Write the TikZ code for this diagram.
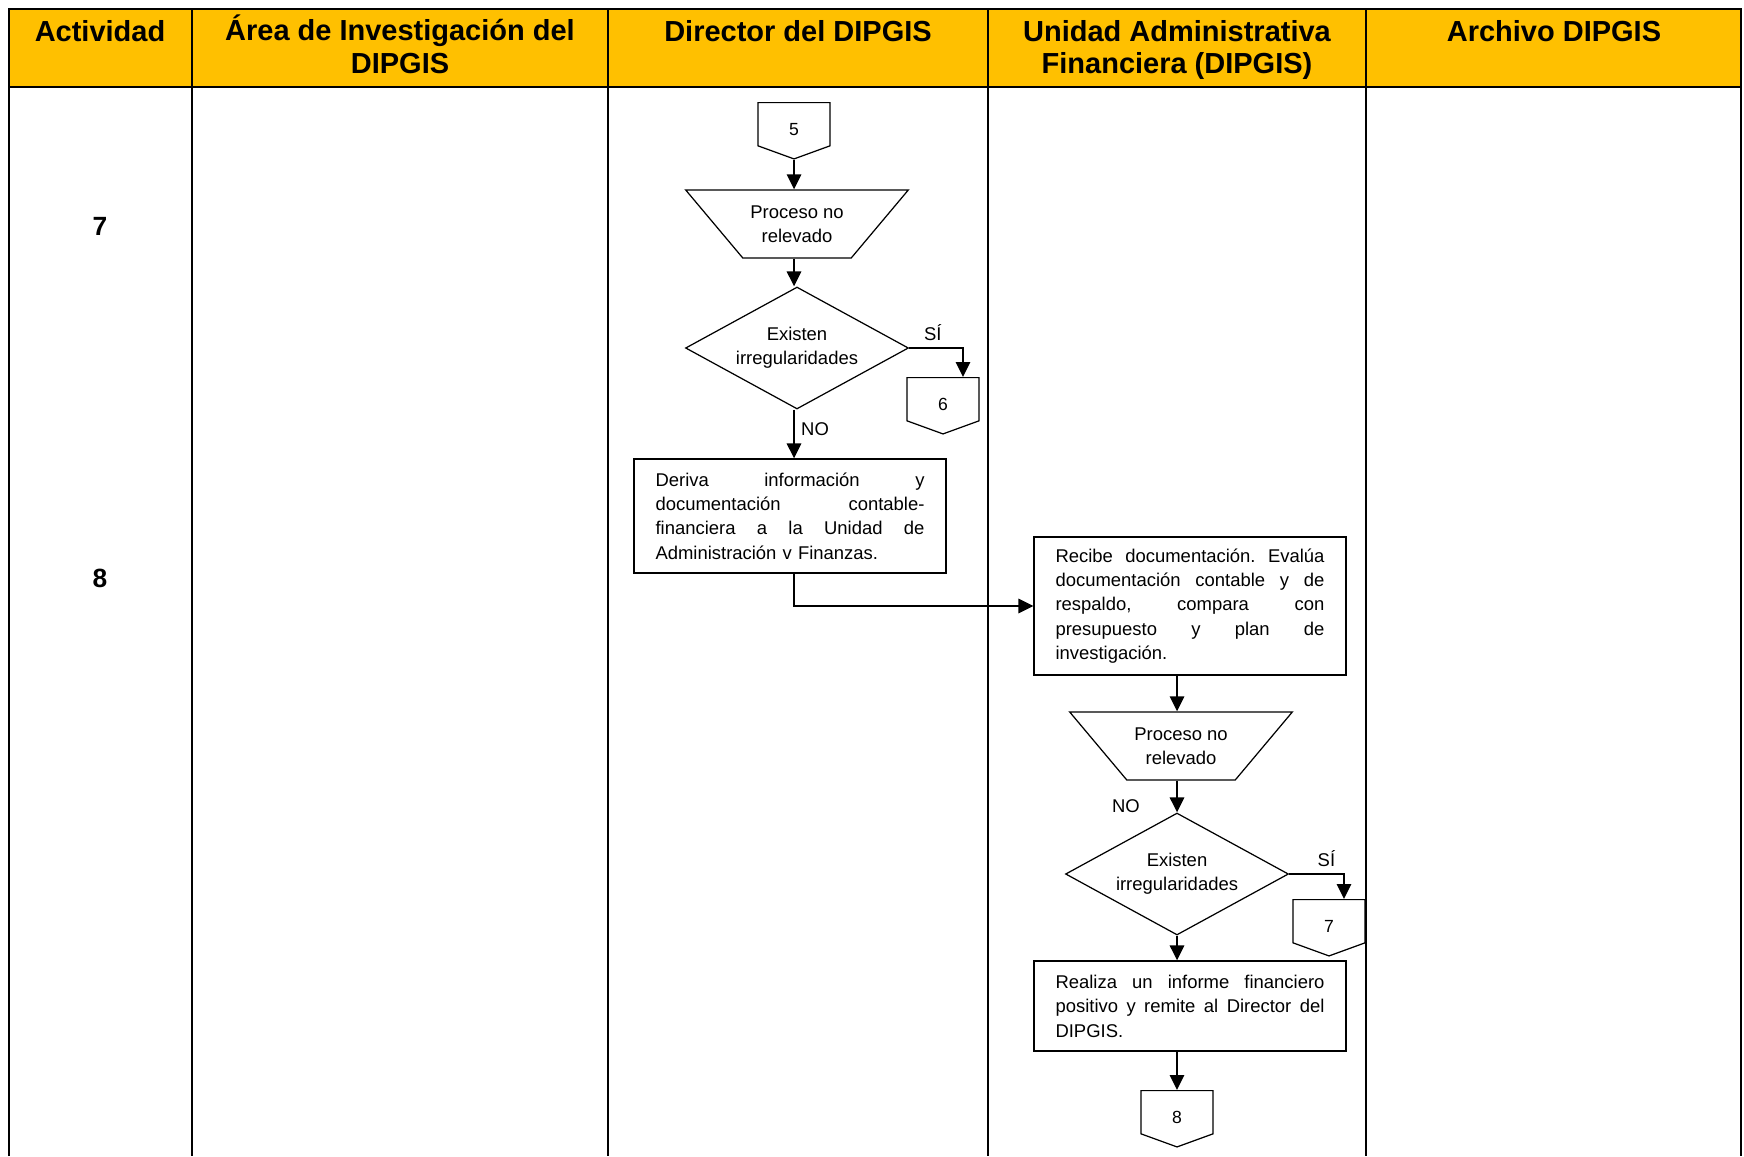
\documentclass[tikz,border=0pt]{standalone}
\usepackage{fontspec}
\setmainfont{Liberation Sans}
\usetikzlibrary{arrows.meta, positioning, shapes.geometric, shapes.symbols, calc}
\definecolor{hdgold}{HTML}{FFC000}
\frenchspacing
\newcommand{\jline}[1]{\makebox[\hsize][s]{\spaceskip=0pt\xspaceskip=0pt #1}\\}

\begin{document}
\begin{tikzpicture}[x=0.02cm, y=-0.02cm,
  tbl/.style={line width=0.9pt},
  tblthick/.style={line width=1.5pt},
  head/.style={font=\fontsize{16.5}{18.5}\selectfont\bfseries, align=center, anchor=north, inner sep=0pt},
  actnum/.style={font=\fontsize{15}{18}\selectfont\bfseries},
  procbox/.style={rectangle, draw, line width=0.7pt, minimum width=6.24cm, text width=5.38cm, align=left, font=\fontsize{10.5}{13.9}\selectfont, inner sep=0pt},
  manual/.style={trapezium, trapezium stretches=true, shape border rotate=180, trapezium left angle=40, trapezium right angle=40, draw, line width=0.7pt, minimum width=4.46cm, minimum height=1.36cm, inner sep=2pt, align=center, font=\fontsize{10.5}{13.9}\selectfont},
  decision/.style={diamond, aspect=1.8, draw, line width=0.7pt, minimum width=4.46cm, minimum height=2.44cm, inner sep=0pt, align=center, font=\fontsize{10.5}{13.9}\selectfont},
  offpage/.style={signal, signal to=south, signal pointer angle=140, draw, line width=0.7pt, minimum width=1.44cm, minimum height=0.9cm, text height=0.45cm, text depth=0cm, inner sep=0pt, font=\fontsize{10}{12}\selectfont},
  lbl/.style={font=\fontsize{10.5}{12}\selectfont},
  arr/.style={-{Triangle[length=8.5pt, width=8pt]}, line width=1.5pt},
]
  \useasboundingbox (0,0) rectangle (1744,1156);

  \fill[hdgold] (9,9) rectangle (1741,87);
  \draw[tblthick] (9,1156) -- (9,9) -- (1741,9) -- (1741,1156);
  \draw[tblthick] (9,87) -- (1741,87);
  \foreach \cx in {192,608,988,1366}
    \draw[tbl] (\cx,9) -- (\cx,1156);

  \node[head] (hact) at (100,18) {\strut Actividad};
  \node[head] (harea) at (400,14.5) {\strut Área de Investigación del\\DIPGIS};
  \node[head] (hdir) at (798,18) {\strut Director del DIPGIS};
  \node[head] (huaf) at (1177,18) {\strut Unidad Administrativa\\Financiera (DIPGIS)};
  \node[head] (harch) at (1554,18) {\strut Archivo DIPGIS};

  \node[actnum] (act7) at (100,226) {7};
  \node[actnum] (act8) at (100,578) {8};

  \node[offpage, anchor=north] (c5) at (794,102) {5};
  \node[manual] (proc1) at (797,224) {Proceso no\\relevado};
  \node[decision] (dec1) at (797,348) {Existen\\irregularidades};
  \node[offpage, anchor=north] (c6) at (943,377) {6};
  \node[procbox, minimum height=2.28cm] (deriva) at (790,516) {%
    \jline{Deriva información y}
    \jline{documentación contable-}
    \jline{financiera a la Unidad de}
    Administración v Finanzas.};

  \node[procbox, minimum height=2.76cm] (recibe) at (1190,606) {%
    \jline{Recibe documentación. Evalúa}
    \jline{documentación contable y de}
    \jline{respaldo, compara con}
    \jline{presupuesto y plan de}
    investigación.};
  \node[manual] (proc2) at (1181,746) {Proceso no\\relevado};
  \node[decision] (dec2) at (1177,874) {Existen\\irregularidades};
  \node[offpage, anchor=north] (c7) at (1329,899) {7};
  \node[procbox, minimum height=1.8cm] (realiza) at (1190,1006) {%
    \jline{Realiza un informe financiero}
    \jline{positivo y remite al Director del}
    DIPGIS.};
  \node[offpage, anchor=north] (c8) at (1177,1090) {8};

  \draw[arr] (c5.south) -- (c5.south |- proc1.north);
  \draw[arr] (c5.south |- proc1.south) -- (c5.south |- dec1.north);
  \draw[arr] (dec1.east) -| node[lbl, pos=0.22, above] {SÍ} ([xshift=0.4cm]c6.north);
  \draw[arr] (c5.south |- dec1.south) -- node[lbl, pos=0.4, right] {NO} (c5.south |- deriva.north);
  \draw[arr] (c5.south |- deriva.south) |- (recibe.west);
  \draw[arr] (recibe.south -| dec2.north) -- (dec2.north |- proc2.north);
  \draw[arr] (dec2.north |- proc2.south) -- node[lbl, pos=0.8, left=0.6cm] {NO} (dec2.north);
  \draw[arr] (dec2.east) -| node[lbl, pos=0.34, above] {SÍ} ([xshift=0.3cm]c7.north);
  \draw[arr] (dec2.south) -- (dec2.south |- realiza.north);
  \draw[arr] (realiza.south -| c8.north) -- (c8.north);
\end{tikzpicture}
\end{document}
